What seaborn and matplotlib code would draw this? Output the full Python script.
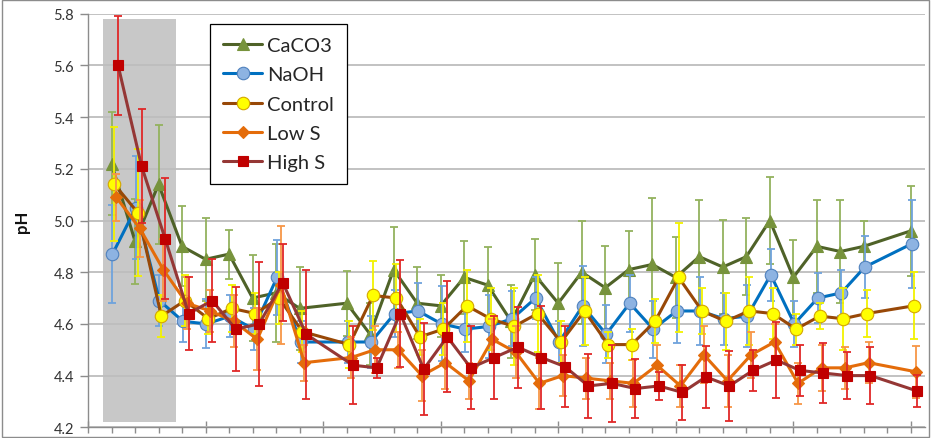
import numpy as np
import pandas as pd
import matplotlib
matplotlib.use("Agg")
import matplotlib.pyplot as plt
from matplotlib.patches import Rectangle
import seaborn as sns

# Sampling days (no samples on day 10 and day 34)
days = [1, 2, 3, 4, 5, 6, 7, 8, 9,
        11, 12, 13, 14, 15, 16, 17, 18, 19, 20, 21, 22, 23, 24, 25, 26, 27,
        28, 29, 30, 31, 32, 33, 35]

caco3 = [5.22, 4.92, 5.14, 4.90, 4.85, 4.87, 4.70, 4.72, 4.66,
         4.68, 4.56, 4.81, 4.68, 4.67, 4.78, 4.75, 4.61, 4.79, 4.68, 4.80,
         4.74, 4.81, 4.83, 4.78, 4.86, 4.82, 4.86, 5.00, 4.78, 4.90, 4.88,
         4.90, 4.96]
caco3_err = [0.20, 0.165, 0.23, 0.155, 0.16, 0.095, 0.165, 0.19, 0.16,
             0.125, 0.12, 0.165, 0.14, 0.12, 0.14, 0.146, 0.14, 0.137, 0.155,
             0.20, 0.163, 0.15, 0.256, 0.156, 0.22, 0.183, 0.148, 0.17, 0.144,
             0.18, 0.20, 0.10, 0.173]

naoh = [4.87, 5.05, 4.69, 4.61, 4.60, 4.63, 4.58, 4.78, 4.53,
        4.53, 4.53, 4.64, 4.65, 4.60, 4.58, 4.59, 4.62, 4.70, 4.53, 4.67,
        4.56, 4.68, 4.58, 4.65, 4.65, 4.62, 4.63, 4.79, 4.60, 4.70, 4.72,
        4.82, 4.91]
naoh_err = [0.19, 0.20, 0.10, 0.08, 0.095, 0.08, 0.08, 0.145, 0.08,
            0.08, 0.10, 0.09, 0.11, 0.145, 0.09, 0.12, 0.107, 0.08, 0.08,
            0.155, 0.113, 0.11, 0.11, 0.125, 0.13, 0.10, 0.12, 0.10, 0.09,
            0.095, 0.09, 0.12, 0.17]

control = [5.14, 5.03, 4.63, 4.69, 4.62, 4.66, 4.64, 4.70, 4.57,
           4.52, 4.71, 4.70, 4.55, 4.58, 4.67, 4.62, 4.59, 4.64, 4.53, 4.65,
           4.52, 4.52, 4.61, 4.78, 4.65, 4.61, 4.65, 4.64, 4.58, 4.63, 4.62,
           4.64, 4.67]
control_err = [0.22, 0.245, 0.08, 0.10, 0.06, 0.09, 0.08, 0.10, 0.08,
               0.09, 0.135, 0.13, 0.07, 0.10, 0.14, 0.12, 0.15, 0.15, 0.08,
               0.13, 0.05, 0.06, 0.085, 0.21, 0.09, 0.11, 0.13, 0.10, 0.06,
               0.05, 0.12, 0.09, 0.13]

low_s = [5.09, 4.97, 4.81, 4.68, 4.65, 4.61, 4.54, 4.75, 4.45,
         4.47, 4.50, 4.50, 4.40, 4.45, 4.38, 4.54, 4.49, 4.37, 4.40, 4.39,
         4.38, 4.37, 4.44, 4.36, 4.48, 4.38, 4.48, 4.53, 4.37, 4.43, 4.43,
         4.45, 4.415]
low_s_err = [0.09, 0.11, 0.12, 0.10, 0.08, 0.10, 0.12, 0.227, 0.07,
             0.08, 0.09, 0.07, 0.10, 0.10, 0.07, 0.08, 0.10, 0.10, 0.08,
             0.08, 0.07, 0.09, 0.08, 0.08, 0.11, 0.10, 0.09, 0.07, 0.08,
             0.09, 0.08, 0.08, 0.10]

high_s = [5.60, 5.21, 4.93, 4.64, 4.69, 4.58, 4.60, 4.76, 4.56,
          4.44, 4.43, 4.64, 4.425, 4.55, 4.43, 4.47, 4.51, 4.47, 4.435, 4.36,
          4.37, 4.35, 4.36, 4.335, 4.395, 4.36, 4.42, 4.46, 4.42, 4.41, 4.40,
          4.40, 4.34]
high_s_err = [0.19, 0.22, 0.235, 0.14, 0.16, 0.164, 0.24, 0.15, 0.25,
              0.15, 0.04, 0.206, 0.177, 0.215, 0.16, 0.16, 0.157, 0.20, 0.155,
              0.125, 0.15, 0.113, 0.055, 0.105, 0.12, 0.135, 0.08, 0.147,
              0.097, 0.116, 0.09, 0.11, 0.062]

y_ticks = [4.2, 4.4, 4.6, 4.8, 5.0, 5.2, 5.4, 5.6, 5.8]

sns.set_style("white")
plt.rcParams["font.family"] = ["Lato", "DejaVu Sans"]

fig = plt.figure(figsize=(9.31, 4.39), dpi=100)
ax = fig.add_axes([88 / 931, 1 - 428.3 / 439, (925 - 88) / 931, (428.3 - 14.7) / 439])

# Acclimation period shading
ax.add_patch(Rectangle((0.64, 4.22), 3.1, 1.56, facecolor="#c8c8c8",
                       edgecolor="none", zorder=1))

series = [
    # label, values, errors, x shift, line, marker, face, edge, marker size, errbar colour
    ("CaCO3", caco3, caco3_err, 0.00, "#4f6228", "^", "#77933c", "#77933c", 9, "#93b25e"),
    ("NaOH", naoh, naoh_err, 0.04, "#0070c0", "o", "#8db3e2", "#4f81bd", 9, "#6fa3dc"),
    ("Control", control, control_err, 0.12, "#984807", "o", "#ffff00", "#d4a600", 9, "#f2f200"),
    ("Low S", low_s, low_s_err, 0.20, "#e46c0a", "D", "#e46c0a", "#e46c0a", 6.5, "#f79646"),
    ("High S", high_s, high_s_err, 0.28, "#953735", "s", "#c00000", "#c00000", 7.5, "#e02828"),
]

for i, (label, vals, errs, shift, lc, mk, mfc, mec, ms, ec) in enumerate(series):
    df = pd.DataFrame({"day": np.array(days, dtype=float) + shift, "pH": vals})
    ax.errorbar(df["day"], df["pH"], yerr=errs, fmt="none", ecolor=ec,
                elinewidth=1.3, capsize=3, capthick=1.3, zorder=2 + i * 0.1)
    sns.lineplot(data=df, x="day", y="pH", ax=ax, color=lc, linewidth=2.2,
                 marker=mk, markersize=ms, markerfacecolor=mfc,
                 markeredgecolor=mec, markeredgewidth=0.8, label=label,
                 errorbar=None, zorder=2.05 + i * 0.1)

ax.set_xlim(0, 35.6)
ax.set_ylim(4.2, 5.8)
ax.set_yticks(y_ticks)
ax.set_yticklabels([f"{v:.1f}" for v in y_ticks])
ax.set_xticks(np.arange(0, 36, 5))
ax.set_xticks(np.arange(0, 36, 1), minor=True)
ax.set_xticklabels([])
ax.set_xlabel("")
ax.set_ylabel("pH", fontsize=12, fontweight="bold", labelpad=17, color="#111111")

# Grid sits above the shaded block but below the data
ax.set_axisbelow("line")
ax.yaxis.grid(True, color="#bdbdbd", linewidth=1.3)
ax.xaxis.grid(False)

for side in ["top", "right"]:
    ax.spines[side].set_visible(False)
for side in ["left", "bottom"]:
    ax.spines[side].set_color("#8c8c8c")
    ax.spines[side].set_linewidth(1.0)

ax.tick_params(axis="y", which="major", direction="out", length=6, width=1,
               color="#8c8c8c", labelsize=10.5, labelcolor="#333333", pad=4, left=True)
ax.tick_params(axis="x", which="major", direction="inout", length=9, width=1,
               color="#8c8c8c", bottom=True)
ax.tick_params(axis="x", which="minor", direction="out", length=4, width=1,
               color="#8c8c8c", bottom=True)

leg = ax.legend(loc="upper left", bbox_to_anchor=(0.1458, 0.975), fontsize=14.5,
                frameon=True, fancybox=False, edgecolor="#000000",
                framealpha=1, borderpad=0.65, labelspacing=0.6,
                handlelength=1.95, handletextpad=0.25, borderaxespad=0)
leg.get_frame().set_linewidth(0.9)
leg.set_zorder(10)

# Outer chart border
fig.patches.append(Rectangle((0.002, 0.003), 0.996, 0.994, transform=fig.transFigure,
                             fill=False, edgecolor="#8c8c8c", linewidth=1.0))

fig.savefig("out.png", dpi=100)
